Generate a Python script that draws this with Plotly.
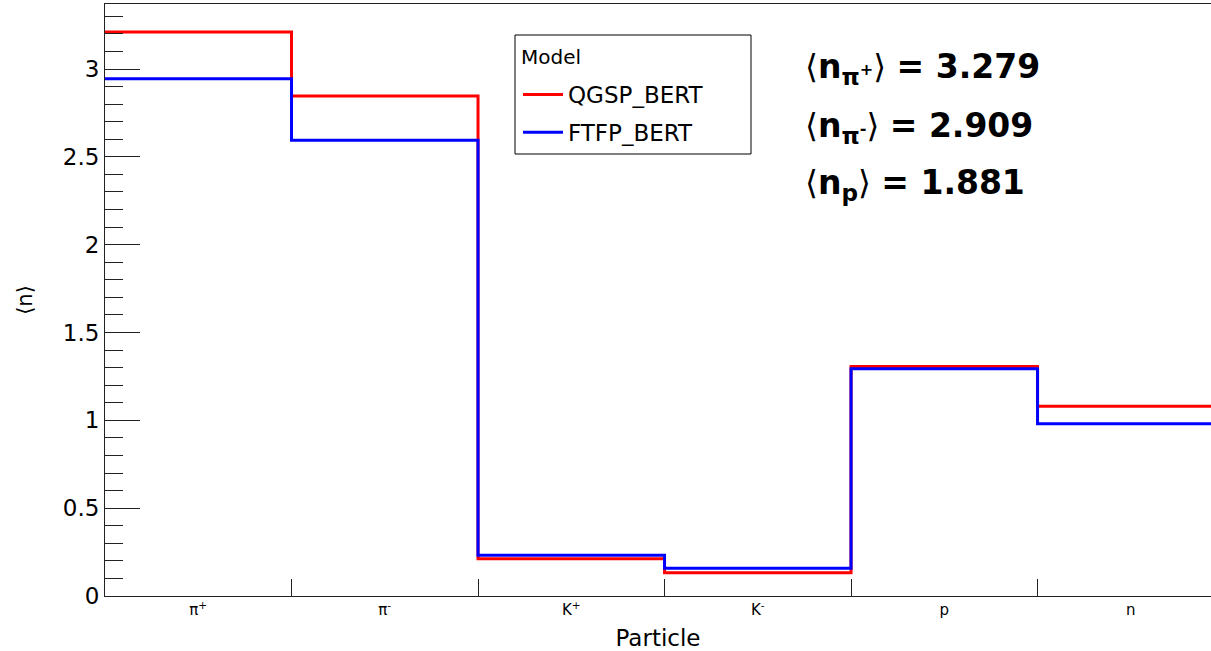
import plotly.graph_objects as go

# ---- data ----
particles = ["π<sup>+</sup>", "π<sup>-</sup>", "K<sup>+</sup>", "K<sup>-</sup>", "p", "n"]
qgsp_bert = [3.21, 2.846, 0.212, 0.133, 1.307, 1.080]
ftfp_bert = [2.945, 2.594, 0.232, 0.158, 1.293, 0.981]
bin_edges = [0, 1, 2, 3, 4, 5, 6]
bin_centers = [0.5, 1.5, 2.5, 3.5, 4.5, 5.5]
series_names = ["QGSP_BERT", "FTFP_BERT"]
summary_labels = ["π<sup>+</sup>", "π<sup>-</sup>", "p"]
summary_values = ["3.279", "2.909", "1.881"]

FONT = "DejaVu Sans, Liberation Sans, Arial, sans-serif"
AX = "#222222"

# plot-area geometry (pixels) used to place paper-referenced items
L, T, W, H = 105, 4, 1106, 592
def px(x):
    return (x - L) / W
def py(y):
    return (T + H - y) / H

fig = go.Figure()
for name, vals, col in [(series_names[0], qgsp_bert, "#ff0000"),
                        (series_names[1], ftfp_bert, "#0000ff")]:
    fig.add_trace(go.Scatter(
        x=bin_edges, y=vals + [vals[-1]],
        mode="lines", line=dict(color=col, width=3, shape="hv"),
        name=name, legendgroup=name,
    ))

fig.update_layout(
    width=1211, height=651,
    margin=dict(l=105, r=0, t=4, b=55),
    plot_bgcolor="white", paper_bgcolor="white",
    font=dict(family=FONT, color="black"),
    showlegend=True,
    legend=dict(
        font=dict(size=23),
        x=px(518), y=py(73), xanchor="left", yanchor="top",
        borderwidth=0, bgcolor="rgba(0,0,0,0)",
        tracegroupgap=5, itemwidth=40,
    ),
    xaxis=dict(
        range=[0, 5.93],
        tickvals=bin_centers, ticktext=particles,
        ticks="", tickfont=dict(size=15),
        showgrid=False, zeroline=False,
        showline=True, linecolor=AX, linewidth=1, mirror=True,
        minor=dict(tickvals=bin_edges[1:-1], ticks="inside", ticklen=17, tickcolor=AX),
        title=dict(text="Particle", font=dict(size=23), standoff=14),
    ),
    yaxis=dict(
        range=[0, 3.37],
        tickvals=[0, 0.5, 1, 1.5, 2, 2.5, 3],
        ticktext=["0", "0.5", "1", "1.5", "2", "2.5", "3"],
        ticks="inside", ticklen=35, tickcolor=AX,
        tickfont=dict(size=23),
        showgrid=False, zeroline=False,
        showline=True, linecolor=AX, linewidth=1,
        minor=dict(dtick=0.1, tick0=0, ticks="inside", ticklen=18, tickcolor=AX),
        title=dict(text="⟨n⟩", font=dict(size=21), standoff=24),
    ),
)

# legend frame and header
fig.add_shape(type="rect", xref="paper", yref="paper",
              x0=px(515), x1=px(751), y0=py(154), y1=py(35),
              line=dict(color="black", width=1), fillcolor="rgba(0,0,0,0)", layer="above")
fig.add_annotation(text="Model", xref="paper", yref="paper",
                   x=px(519), y=py(57), xanchor="left", yanchor="middle",
                   showarrow=False, font=dict(size=20, family=FONT, color="black"))

ys = [py(69), py(127), py(184)]
for lab, val, yy in zip(summary_labels, summary_values, ys):
    txt = f"⟨<b>n<sub>{lab}</sub></b>⟩ <b>= {val}</b>"
    fig.add_annotation(
        text=txt, xref="paper", yref="paper",
        x=px(803), y=yy, xanchor="left", yanchor="middle",
        showarrow=False, font=dict(size=33, family=FONT, color="black"),
    )

fig.write_html("out.html")
